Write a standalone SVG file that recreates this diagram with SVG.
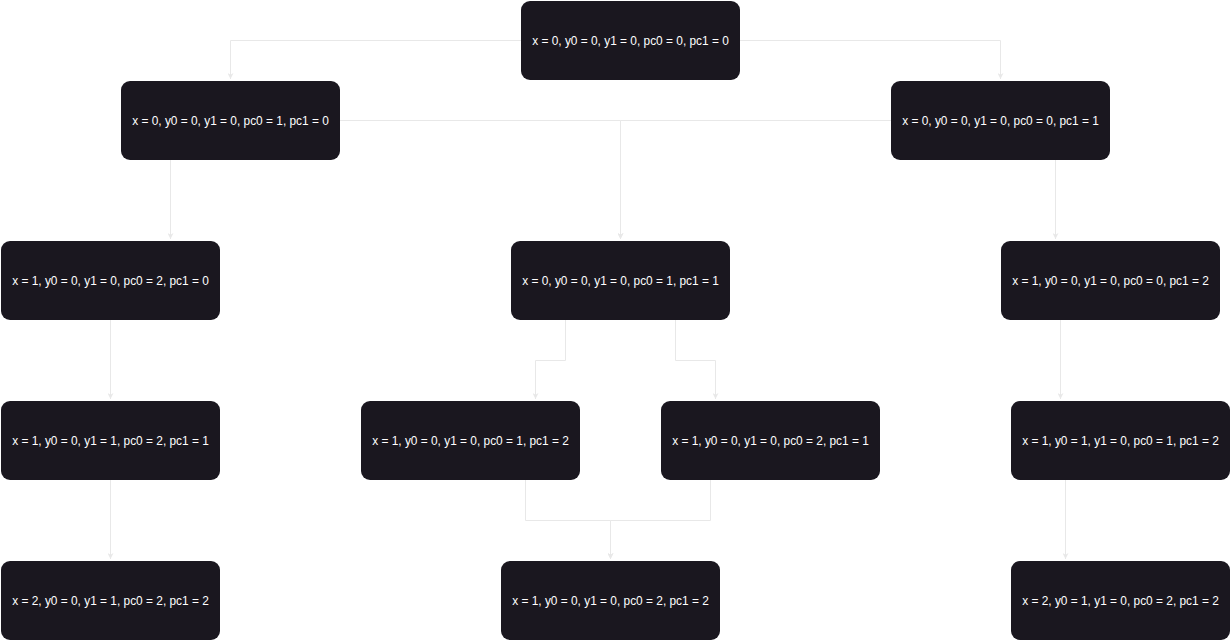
<svg xmlns="http://www.w3.org/2000/svg" width="1231" height="641" viewBox="0 0 1231 641">
  <style>
    .node rect { fill: #1a171f; }
    .node text { fill: #ffffff; font-family: "Liberation Sans", Arial, sans-serif; font-size: 11.9px; text-anchor: middle; dominant-baseline: central; }
    .edge { fill: none; stroke: #e8e8e8; stroke-width: 1; marker-end: url(#arrow); }
  </style>
  <defs>
    <marker id="arrow" viewBox="0 0 10 10" refX="10" refY="5" markerWidth="6" markerHeight="6" markerUnits="userSpaceOnUse" orient="auto">
      <path d="M0,0 L10,5 L0,10 L3,5 Z" fill="#e8e8e8"/>
    </marker>
  </defs>
  <rect width="1231" height="641" fill="#ffffff"/>

  <g id="connectors">
    <path class="edge" d="M521.5,40.5 H230.5 V79"/>
    <path class="edge" d="M739.5,40.5 H1000.5 V79"/>
    <path class="edge" d="M339.5,120.5 H620.5 V239"/>
    <path class="edge" d="M891.5,120.5 H620.5 V239"/>
    <path class="edge" d="M170.5,159.5 V239"/>
    <path class="edge" d="M1055.5,159.5 V239"/>
    <path class="edge" d="M110.5,319.5 V399"/>
    <path class="edge" d="M565.5,319.5 V360.5 H535.5 V399"/>
    <path class="edge" d="M675.5,319.5 V360.5 H715.5 V399"/>
    <path class="edge" d="M1060.5,319.5 V399"/>
    <path class="edge" d="M110.5,479.5 V559"/>
    <path class="edge" d="M525.5,479.5 V520.5 H610.5 V559"/>
    <path class="edge" d="M710.5,479.5 V520.5 H610.5 V559"/>
    <path class="edge" d="M1065.5,479.5 V559"/>
  </g>

  <g id="n0" class="node"><rect x="521" y="1" width="219" height="79" rx="9"/><text x="630.5" y="40.5">x = 0, y0 = 0, y1 = 0, pc0 = 0, pc1 = 0</text></g>
  <g id="n1" class="node"><rect x="121" y="81" width="219" height="79" rx="9"/><text x="230.5" y="120.5">x = 0, y0 = 0, y1 = 0, pc0 = 1, pc1 = 0</text></g>
  <g id="n2" class="node"><rect x="891" y="81" width="219" height="79" rx="9"/><text x="1000.5" y="120.5">x = 0, y0 = 0, y1 = 0, pc0 = 0, pc1 = 1</text></g>
  <g id="n3" class="node"><rect x="1" y="241" width="219" height="79" rx="9"/><text x="110.5" y="280.5">x = 1, y0 = 0, y1 = 0, pc0 = 2, pc1 = 0</text></g>
  <g id="n4" class="node"><rect x="511" y="241" width="219" height="79" rx="9"/><text x="620.5" y="280.5">x = 0, y0 = 0, y1 = 0, pc0 = 1, pc1 = 1</text></g>
  <g id="n5" class="node"><rect x="1001" y="241" width="219" height="79" rx="9"/><text x="1110.5" y="280.5">x = 1, y0 = 0, y1 = 0, pc0 = 0, pc1 = 2</text></g>
  <g id="n6" class="node"><rect x="1" y="401" width="219" height="79" rx="9"/><text x="110.5" y="440.5">x = 1, y0 = 0, y1 = 1, pc0 = 2, pc1 = 1</text></g>
  <g id="n7" class="node"><rect x="361" y="401" width="219" height="79" rx="9"/><text x="470.5" y="440.5">x = 1, y0 = 0, y1 = 0, pc0 = 1, pc1 = 2</text></g>
  <g id="n8" class="node"><rect x="661" y="401" width="219" height="79" rx="9"/><text x="770.5" y="440.5">x = 1, y0 = 0, y1 = 0, pc0 = 2, pc1 = 1</text></g>
  <g id="n9" class="node"><rect x="1011" y="401" width="219" height="79" rx="9"/><text x="1120.5" y="440.5">x = 1, y0 = 1, y1 = 0, pc0 = 1, pc1 = 2</text></g>
  <g id="n10" class="node"><rect x="1" y="561" width="219" height="79" rx="9"/><text x="110.5" y="600.5">x = 2, y0 = 0, y1 = 1, pc0 = 2, pc1 = 2</text></g>
  <g id="n11" class="node"><rect x="501" y="561" width="219" height="79" rx="9"/><text x="610.5" y="600.5">x = 1, y0 = 0, y1 = 0, pc0 = 2, pc1 = 2</text></g>
  <g id="n12" class="node"><rect x="1011" y="561" width="219" height="79" rx="9"/><text x="1120.5" y="600.5">x = 2, y0 = 1, y1 = 0, pc0 = 2, pc1 = 2</text></g>
</svg>
